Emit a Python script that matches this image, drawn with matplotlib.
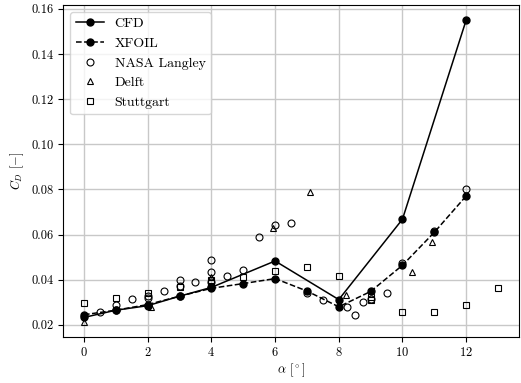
import matplotlib
matplotlib.use("Agg")
import matplotlib.pyplot as plt

plt.rcParams["font.family"] = "cmr10"
plt.rcParams["mathtext.fontset"] = "cm"
plt.rcParams["axes.formatter.use_mathtext"] = True
plt.rcParams["font.size"] = 9

# CFD results
cfd_alpha = [0, 1, 2, 3, 4, 6, 8, 10, 12]
cfd_cd = [0.0233, 0.0265, 0.0285, 0.0327, 0.0366, 0.0483, 0.0312, 0.0668, 0.155]

# XFOIL results
xfoil_alpha = [0, 1, 2, 3, 4, 5, 6, 7, 8, 9, 10, 11, 12]
xfoil_cd = [0.0245, 0.0265, 0.0290, 0.0327, 0.0362, 0.0383, 0.0405, 0.0350,
            0.0280, 0.0348, 0.0464, 0.0610, 0.0771]

# experimental data
nasa_alpha = [0.5, 1, 1.5, 2, 2, 2.5, 3, 3, 3.5, 4, 4, 4, 4.5, 5, 5.5, 6, 6.5,
              7, 7.5, 8.25, 8.5, 8.75, 9, 9.5, 10, 11, 12]
nasa_cd = [0.0258, 0.0290, 0.0314, 0.0326, 0.0320, 0.0352, 0.0400, 0.0373,
           0.0388, 0.0488, 0.0433, 0.0390, 0.0415, 0.0442, 0.0590, 0.0644,
           0.0650, 0.0339, 0.0312, 0.0281, 0.0244, 0.0302, 0.0316, 0.0339,
           0.0476, 0.0615, 0.0800]

delft_alpha = [0, 2.09, 4, 5.95, 7.1, 8.23, 10.3, 10.93]
delft_cd = [0.0213, 0.0277, 0.0414, 0.0627, 0.0789, 0.0331, 0.0435, 0.0569]

stutt_alpha = [0, 1, 2, 3, 4, 4, 5, 6, 7, 8, 9, 9, 10, 11, 12, 13]
stutt_cd = [0.0296, 0.0318, 0.0343, 0.0368, 0.0400, 0.0385, 0.0412, 0.0438,
            0.0457, 0.0417, 0.0324, 0.0309, 0.0258, 0.0255, 0.0289, 0.0365]

fig, ax = plt.subplots(figsize=(5.21, 3.83), dpi=100)
fig.subplots_adjust(left=0.1215, right=0.9956, top=0.987, bottom=0.12)

ax.plot(cfd_alpha, cfd_cd, "k-", marker="o", ms=5, lw=1.1, label="CFD")
ax.plot(xfoil_alpha, xfoil_cd, "k--", marker="o", ms=5, lw=1.1, label="XFOIL")
ax.plot(nasa_alpha, nasa_cd, ls="none", marker="o", mfc="none", mec="k",
        ms=5, mew=0.8, label="NASA Langley")
ax.plot(delft_alpha, delft_cd, ls="none", marker="^", mfc="none", mec="k",
        ms=5, mew=0.8, label="Delft")
ax.plot(stutt_alpha, stutt_cd, ls="none", marker="s", mfc="none", mec="k",
        ms=5, mew=0.8, label="Stuttgart")

ax.set_xticks([0, 2, 4, 6, 8, 10, 12])
ax.set_yticks([0.02, 0.04, 0.06, 0.08, 0.10, 0.12, 0.14, 0.16])
ax.yaxis.set_major_formatter(matplotlib.ticker.FormatStrFormatter("%.2f"))
ax.tick_params(axis="x", pad=3)
ax.grid(True, color="#c8c8c8", lw=1)
ax.set_axisbelow(True)
ax.set_xlabel(r"$\alpha$ [$^\circ$]", labelpad=2)
ax.set_ylabel(r"$C_D$ [$-$]")
ax.legend(loc="upper left", fontsize=10)

fig.savefig("out.png", dpi=100)
